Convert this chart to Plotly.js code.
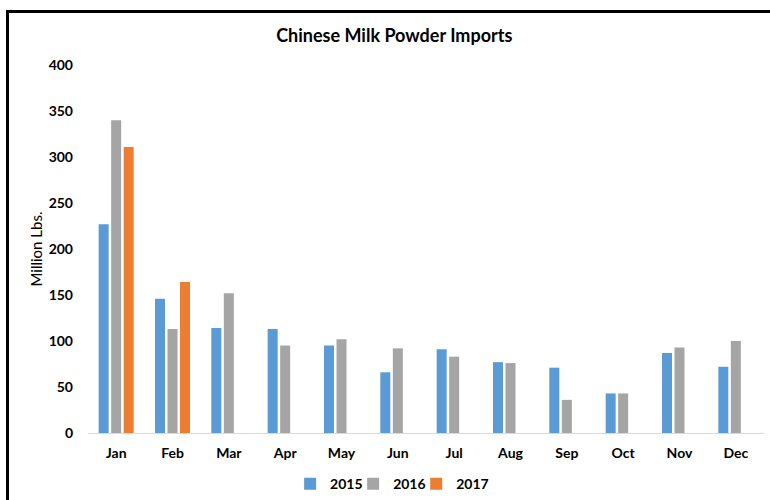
<!DOCTYPE html>
<html>
<head>
<meta charset="utf-8">
<script src="https://cdn.plot.ly/plotly-3.0.1.min.js"></script>
<style>
  html, body { margin: 0; padding: 0; background: #fff; }
  #wrap { position: relative; width: 770px; height: 500px; overflow: hidden; }
  #chart { position: absolute; left: 0; top: 0; width: 770px; height: 500px; }
  #frame { position: absolute; left: 6px; top: 10px; width: 800px; height: 600px;
           border-left: 3px solid #000; border-top: 3px solid #000; pointer-events: none; z-index: 5; }
</style>
</head>
<body>
<div id="wrap">
  <div id="chart"></div>
  <div id="frame"></div>
</div>
<script>
const months = ["Jan","Feb","Mar","Apr","May","Jun","Jul","Aug","Sep","Oct","Nov","Dec"];
const imports2015 = [227, 146, 114, 113, 95, 66, 91, 77, 71, 43, 87, 72];
const imports2016 = [340, 113, 152, 95, 102, 92, 83, 76, 36, 43, 93, 100];
const imports2017 = [311, 164, null, null, null, null, null, null, null, null, null, null];
const seriesNames = ["2015", "2016", "2017"];
const seriesColors = ["#5B9BD5", "#A5A5A5", "#ED7D31"];
const yTicks = [0, 50, 100, 150, 200, 250, 300, 350, 400];

const FONT = "Lato, 'Open Sans', sans-serif";
const legendIds = ["legend", "legend2", "legend3"];
const legendX = [0.2990, 0.3922, 0.4855];

const allSeries = [imports2015, imports2016, imports2017];
const traces = allSeries.map((vals, i) => ({
  type: "bar",
  name: seriesNames[i],
  x: months,
  y: vals,
  marker: { color: seriesColors[i] },
  legend: legendIds[i],
  hoverinfo: "x+y+name"
}));

const layout = {
  width: 770,
  height: 500,
  margin: { l: 88, r: 6, t: 65, b: 67, autoexpand: false },
  paper_bgcolor: "#fff",
  plot_bgcolor: "#fff",
  barmode: "group",
  bargap: 0.334,
  bargroupgap: 0.2,
  title: {
    text: "<b>Chinese Milk Powder Imports</b>",
    font: { family: FONT, size: 18, color: "#000" },
    x: 0.512, xanchor: "center",
    y: 0.928, yanchor: "middle", yref: "container"
  },
  xaxis: {
    type: "category",
    showgrid: false,
    showline: true,
    linecolor: "#D9D9D9",
    linewidth: 1,
    ticks: "",
    tickfont: { family: FONT, size: 14, color: "#000", weight: "bold" },
    ticklabelstandoff: 7,
    zeroline: false
  },
  yaxis: {
    range: [0, 400],
    tickvals: yTicks,
    ticktext: yTicks.map(String),
    showgrid: false,
    showline: false,
    zeroline: false,
    ticks: "",
    ticklabelstandoff: 14,
    tickfont: { family: FONT, size: 14, color: "#000", weight: "bold" },
    title: {
      text: "Million Lbs.",
      font: { family: FONT, size: 15, color: "#000" },
      standoff: 2
    }
  },
  showlegend: true
};

legendIds.forEach((id, i) => {
  layout[id] = {
    orientation: "h",
    x: legendX[i], xanchor: "left",
    y: -0.139, yanchor: "middle",
    font: { family: FONT, size: 14, color: "#000", weight: "bold" },
    itemwidth: 30,
    bgcolor: "rgba(0,0,0,0)"
  };
});

Plotly.newPlot("chart", traces, layout, { displayModeBar: false, staticPlot: true });
</script>
</body>
</html>
